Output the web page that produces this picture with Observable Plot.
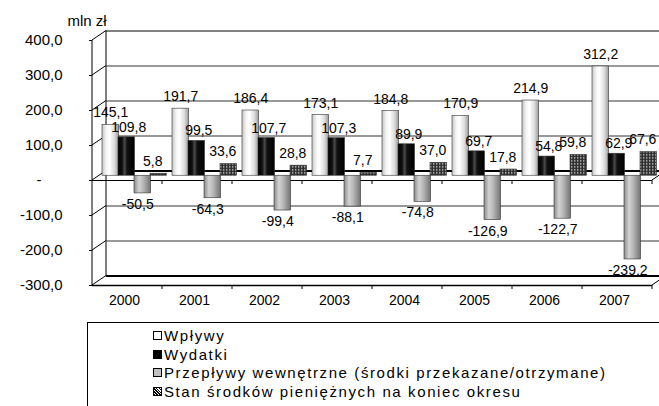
<!DOCTYPE html>
<html>
<head>
<meta charset="utf-8">
<script src="https://cdn.jsdelivr.net/npm/d3@7"></script>
<script src="https://cdn.jsdelivr.net/npm/@observablehq/plot@0.6"></script>
<style>
  html, body { margin: 0; padding: 0; background: #fff; }
  #wrap { width: 659px; height: 406px; overflow: hidden; position: relative; font-family: "Liberation Sans", Arial, sans-serif; }
  #legend { position: relative; margin-left: 87px; width: 700px; height: 100px; border-left: 1px solid #000; border-top: 1px solid #000; box-sizing: border-box; }
  #legend .row { position: absolute; left: 65px; height: 18px; line-height: 18px; font-size: 15px; letter-spacing: 1.6px; white-space: nowrap; padding-left: 11px; color: #000; }
  #legend .sw { position: absolute; left: 0; top: 4.2px; width: 7px; height: 7px; border: 1px solid #000; }
</style>
</head>
<body>
<div id="wrap"></div>
<script>
// ---- data ----
const years = ["2000", "2001", "2002", "2003", "2004", "2005", "2006", "2007"];
const wplywy = [145.1, 191.7, 186.4, 173.1, 184.8, 170.9, 214.9, 312.2];
const wydatki = [109.8, 99.5, 107.7, 107.3, 89.9, 69.7, 54.8, 62.9];
const przeplywy = [-50.5, -64.3, -99.4, -88.1, -74.8, -126.9, -122.7, -239.2];
const stan = [5.8, 33.6, 28.8, 7.7, 37.0, 17.8, 59.8, 67.6];
const seriesNames = [
  "Wpływy",
  "Wydatki",
  "Przepływy wewnętrzne (środki przekazane/otrzymane)",
  "Stan środków pieniężnych na koniec okresu"
];
const yTicks = [-300, -200, -100, 0, 100, 200, 300, 400];
const yTickLabels = ["-300,0", "-200,0", "-100,0", "-", "100,0", "200,0", "300,0", "400,0"];
const unitLabel = "mln zł";

// ---- layout ----
const W = 659, H = 322;
const mL = 92, mR = 7, mT = 40, mB = 37;
const DX = 14, DY = -9.5;       // depth offset of the back wall
const BAR_W = 16.5, BAR_OFF = 3, BAR_STEP = 16, RY = 2.6;
const LABEL_SHIFT = [0, 2, -5, -6];
const LABEL_GAP = [12, 10, 11, 12.5];
const bandwidth = (W - mL - mR) / years.length;
const fmt = v => v.toFixed(1).replace(".", ",");

const seriesValues = [wplywy, wydatki, przeplywy, stan];
const series = seriesValues.map((vals, k) => years.map((year, i) => ({year, value: vals[i], k})));

const marks = [
  // back wall gridlines
  Plot.ruleY(yTicks.filter(v => v !== 0 && v !== 400 && v !== -300), {y: d => d, dx: DX, dy: DY, stroke: "#333", strokeWidth: 1}),
  Plot.ruleY([400], {y: d => d, dx: DX, dy: DY, stroke: "#000", strokeWidth: 1}),
  Plot.ruleY([-300], {y: d => d, dx: DX, dy: DY, stroke: "#000", strokeWidth: 2}),
  Plot.ruleY([0], {y: d => d, dx: DX, dy: DY, stroke: "#000", strokeWidth: 2}),
  // front zero line and front floor edge
  Plot.ruleY([0], {y: d => d, stroke: "#000", strokeWidth: 1}),
  Plot.ruleY([-300], {y: d => d, stroke: "#000", strokeWidth: 1.3}),
  // y ticks
  Plot.axisY({ticks: yTicks, tickSize: 3, tickFormat: () => "", label: null, stroke: "#000"}),
  Plot.text(yTicks, {filter: d => d !== 0, y: d => d, text: (d, i) => yTickLabels[i], frameAnchor: "left", textAnchor: "end", dx: -30, fontSize: 15, fill: "#000", ariaLabel: "ylabels"}),
  Plot.text(yTicks, {filter: d => d === 0, y: d => d, text: (d, i) => yTickLabels[i], frameAnchor: "left", textAnchor: "end", dx: -51, fontSize: 15, fill: "#000", ariaLabel: "zerolabel"}),
  // unit
  Plot.text([unitLabel], {text: d => d, frameAnchor: "top-left", textAnchor: "start", lineAnchor: "middle", dx: -25, dy: -19, fontSize: 15, fill: "#000", ariaLabel: "unit"}),
  // years
  Plot.text(years, {x: d => d, text: d => d, frameAnchor: "bottom", lineAnchor: "top", dy: 10, dx: -3, fontSize: 14, fill: "#000", ariaLabel: "years"})
];

series.forEach((rows, k) => {
  const left = BAR_OFF + k * BAR_STEP;
  marks.push(Plot.barY(rows, {
    x: "year", y: "value",
    fill: `url(#cyl${k})`, stroke: "#333", strokeWidth: 0.6,
    insetLeft: left, insetRight: bandwidth - left - BAR_W,
    dx: DX / 2, dy: DY / 2, ariaLabel: `bars${k}`
  }));
});
series.forEach((rows, k) => {
  const cx = DX / 2 + BAR_OFF + k * BAR_STEP + BAR_W / 2 - bandwidth / 2 + LABEL_SHIFT[k];
  marks.push(Plot.text(rows, {filter: d => d.value >= 0, x: "year", y: "value", text: d => fmt(d.value), dx: cx, dy: DY / 2 - LABEL_GAP[k], lineAnchor: "middle", fontSize: 14, fill: "#000", ariaLabel: "labels"}));
  marks.push(Plot.text(rows, {filter: d => d.value < 0, x: "year", y: "value", text: d => fmt(d.value), dx: cx, dy: DY / 2 + LABEL_GAP[k], lineAnchor: "middle", fontSize: 14, fill: "#000", ariaLabel: "labels"}));
});

const plot = Plot.plot({
  width: W, height: H,
  marginLeft: mL, marginRight: mR, marginTop: mT, marginBottom: mB,
  style: {fontFamily: "Liberation Sans, Arial, sans-serif", background: "#fff", color: "#000"},
  x: {type: "band", domain: years, padding: 0, axis: null},
  y: {domain: [-300, 400], axis: null},
  marks
});

// ---- 3D decoration, using the plot's own scales ----
const svg = d3.select(plot);
const spacing = {ylabels: "2px", zerolabel: "2px", unit: "1.5px", labels: "0.8px", years: "0.8px"};
Object.entries(spacing).forEach(([name, ls]) => svg.selectAll(`g[aria-label="${name}"] text`).style("letter-spacing", ls));

const xs = plot.scale("x"), ys = plot.scale("y");
const y = v => ys.apply(v);
const x0 = xs.range[0], x1 = xs.range[1], bw = xs.bandwidth;

const defs = svg.insert("defs", ":first-child");
function grad(id, stops) {
  const g = defs.append("linearGradient").attr("id", id).attr("x1", 0).attr("x2", 1).attr("y1", 0).attr("y2", 0);
  stops.forEach(([o, c, a]) => g.append("stop").attr("offset", o).attr("stop-color", c).attr("stop-opacity", a == null ? 1 : a));
}
grad("cyl0", [[0, "#c4c4c4"], [0.25, "#f4f4f4"], [0.45, "#ffffff"], [0.75, "#dcdcdc"], [1, "#9c9c9c"]]);
grad("cyl1", [[0, "#000"], [0.25, "#111"], [0.4, "#4a4a4a"], [0.55, "#111"], [1, "#000"]]);
grad("cyl2", [[0, "#8a8a8a"], [0.3, "#d2d2d2"], [0.55, "#b8b8b8"], [1, "#747474"]]);
grad("shade", [[0, "#000", 0.35], [0.35, "#fff", 0.15], [0.6, "#000", 0], [1, "#000", 0.45]]);
const pat = defs.append("pattern").attr("id", "cyl3").attr("patternUnits", "userSpaceOnUse").attr("width", 3).attr("height", 3);
pat.append("rect").attr("width", 3).attr("height", 3).attr("fill", "#2e2e2e");
pat.append("rect").attr("width", 1.4).attr("height", 1.4).attr("fill", "#c8c8c8");

const capFill = ["#e4e4e4", "#1a1a1a", "#2a2a2a", "url(#cyl3)"];
for (let k = 0; k < 4; k++) {
  svg.selectAll(`g[aria-label="bars${k}"] rect`).each(function () {
    const r = this, g = r.parentNode;
    const x = +r.getAttribute("x"), yy = +r.getAttribute("y"), w = +r.getAttribute("width"), h = +r.getAttribute("height");
    const rx = w / 2;
    const body = `M${x},${yy}L${x},${yy + h}A${rx},${RY} 0 0 0 ${x + w},${yy + h}L${x + w},${yy}Z`;
    const p = document.createElementNS("http://www.w3.org/2000/svg", "path");
    p.setAttribute("d", body);
    g.insertBefore(p, r);
    if (k === 3) {
      const s = document.createElementNS("http://www.w3.org/2000/svg", "path");
      s.setAttribute("d", body);
      s.setAttribute("fill", "url(#shade)");
      s.setAttribute("stroke", "none");
      g.insertBefore(s, r);
    }
    const e = document.createElementNS("http://www.w3.org/2000/svg", "ellipse");
    e.setAttribute("cx", x + rx); e.setAttribute("cy", yy);
    e.setAttribute("rx", rx); e.setAttribute("ry", RY);
    e.setAttribute("fill", capFill[k]);
    e.setAttribute("stroke", k === 1 ? "#777" : "#333");
    g.insertBefore(e, r);
    g.removeChild(r);
  });
}

const deco = svg.insert("g", "g").attr("stroke", "#000").attr("stroke-width", 1).attr("fill", "none");
const line = (ax, ay, bx, by) => deco.append("line").attr("x1", ax).attr("y1", ay).attr("x2", bx).attr("y2", by);
line(x0, y(-300), x0, y(400));
line(x0 + DX, y(-300) + DY, x0 + DX, y(400) + DY);
yTicks.forEach(v => line(x0, y(v), x0 + DX, y(v) + DY));
[0, -300].forEach(v => line(x1, y(v), x1 + DX, y(v) + DY));
const bounds = years.map(yr => xs.apply(yr)).concat([xs.apply(years[years.length - 1]) + bw]);
bounds.slice(1).forEach(xb => { line(xb, y(0), xb, y(0) + 4); line(xb, y(-300), xb, y(-300) + 4); });

const wrap = document.getElementById("wrap");
wrap.appendChild(plot);

// ---- legend ----
const swatches = [
  "background:#fff",
  "background:#000",
  "background:#c0c0c0",
  "background:repeating-linear-gradient(45deg,#000 0 1px,#fff 1px 2px)"
];
const legend = document.createElement("div");
legend.id = "legend";
seriesNames.forEach((name, i) => {
  const row = document.createElement("div");
  row.className = "row";
  row.style.top = (3.8 + i * 18.7) + "px";
  const sw = document.createElement("span");
  sw.className = "sw";
  sw.setAttribute("style", swatches[i]);
  row.appendChild(sw);
  row.appendChild(document.createTextNode(name));
  legend.appendChild(row);
});
wrap.appendChild(legend);
</script>
</body>
</html>
